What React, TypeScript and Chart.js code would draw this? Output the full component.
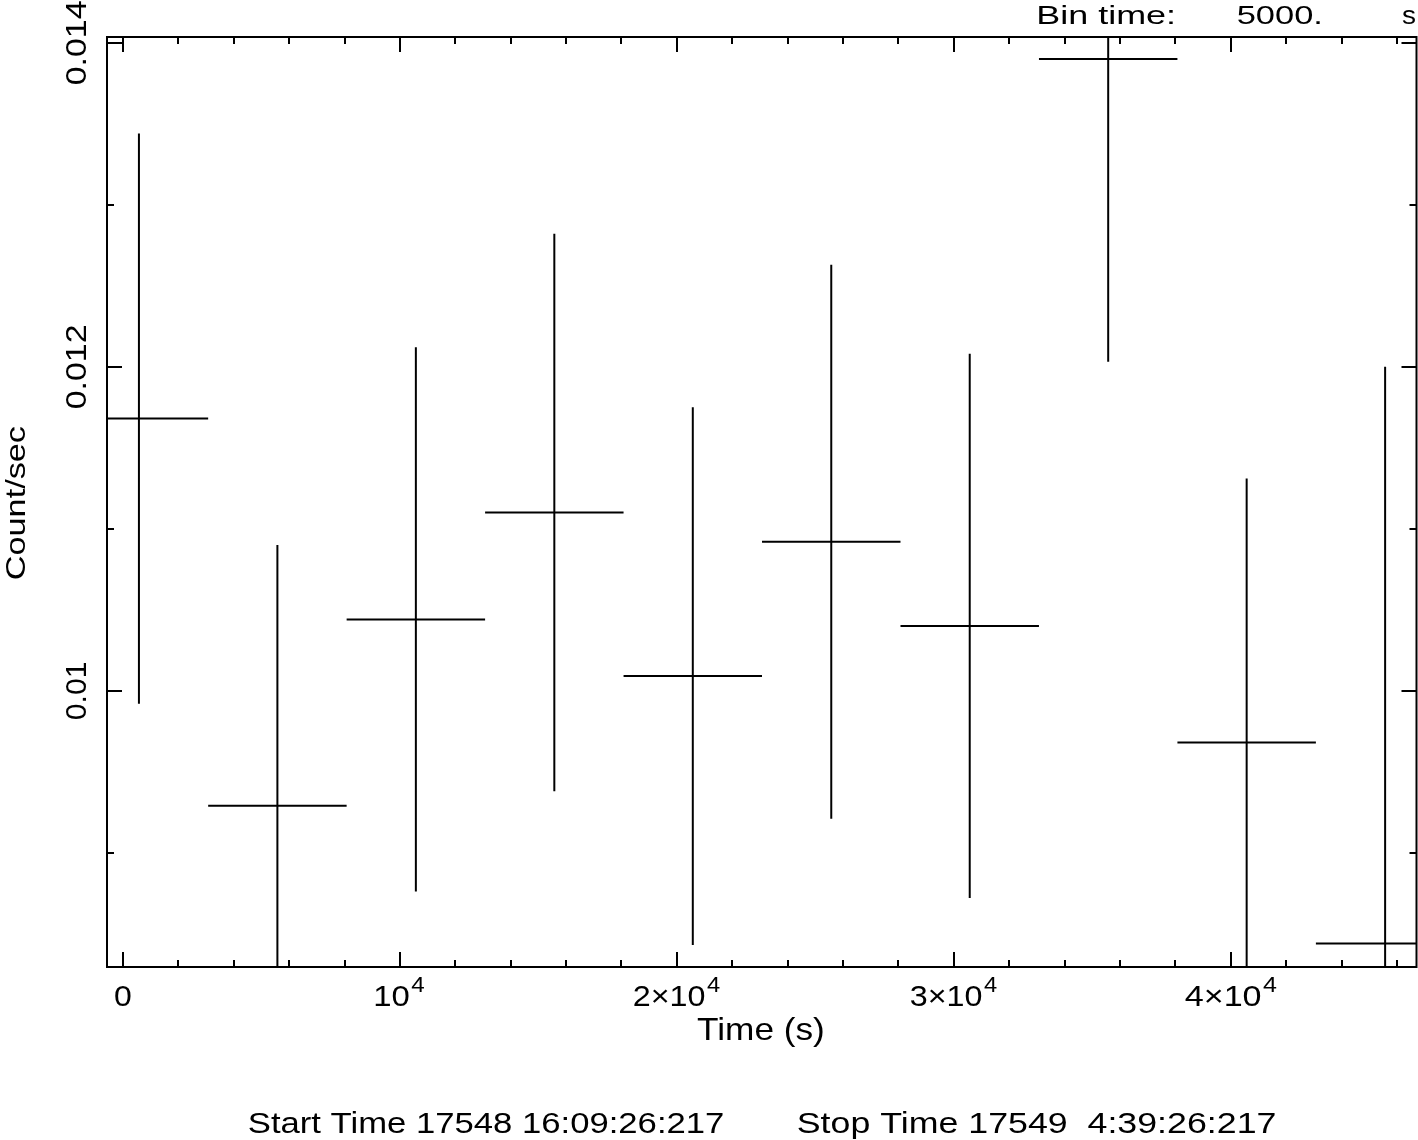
import React, { useEffect, useRef } from "react";
import { Chart, registerables } from "chart.js";

Chart.register(...registerables);

// ---- data ----
const binCenters = [575, 5575, 10575, 15575, 20575, 25575, 30575, 35575, 40575, 45575];
const countRates = [0.01168, 0.00929, 0.01044, 0.0111, 0.01009, 0.01092, 0.0104, 0.0139, 0.00968, 0.00844];
const rateErrors = [0.00176, 0.00161, 0.00168, 0.00172, 0.00166, 0.00171, 0.00168, 0.00187, 0.00163, 0.00356];
const binHalfWidth = 2500;

const xMin = -578;
const xMax = 46708;
const yMin = 0.0082944;
const yMax = 0.0140352;

const xMajorTicks = [0, 10000, 20000, 30000, 40000];
const xTickBase = ["0", "10", "2×10", "3×10", "4×10"];
const xTickSup = ["", "4", "4", "4", "4"];
const xTickWidths = [16, 49, 86, 86, 92];
const xMinorTicks = [2000, 4000, 6000, 8000, 12000, 14000, 16000, 18000, 22000, 24000, 26000, 28000, 32000, 34000, 36000, 38000, 42000, 44000, 46000];

const yMajorTicks = [0.01, 0.012, 0.014];
const yTickLabels = ["0.01", "0.012", "0.014"];
const yTickLengths = [57, 83, 83];
const yMinorTicks = [0.009, 0.011, 0.013];

const xTitle = "Time (s)";
const yTitle = "Count/sec";
const binTimeLabel = "Bin time:";
const binTimeValue = "5000.";
const binTimeUnit = "s";
const startText = "Start Time 17548 16:09:26:217";
const stopText = "Stop Time 17549  4:39:26:217";

const FONT = '"DejaVu Sans ExtraLight", "Liberation Sans", "DejaVu Sans", Arial, sans-serif';
const WEIGHT = "200";

function drawInk(
  ctx: CanvasRenderingContext2D,
  text: string,
  size: number,
  left: number,
  baseline: number,
  inkWidth: number,
  rotated = false
) {
  ctx.save();
  ctx.font = `${WEIGHT} ${size}px ${FONT}`;
  ctx.textAlign = "left";
  ctx.textBaseline = "alphabetic";
  const m = ctx.measureText(text);
  const natural = m.actualBoundingBoxRight + m.actualBoundingBoxLeft;
  const s = inkWidth / natural;
  ctx.translate(left, baseline);
  if (rotated) ctx.rotate(-Math.PI / 2);
  ctx.scale(s, 1);
  ctx.fillStyle = "#000";
  ctx.fillText(text, m.actualBoundingBoxLeft, 0);
  ctx.restore();
}

function drawSupLabel(
  ctx: CanvasRenderingContext2D,
  base: string,
  sup: string,
  centerX: number,
  baseline: number,
  totalWidth: number
) {
  ctx.save();
  ctx.fillStyle = "#000";
  ctx.textAlign = "left";
  ctx.textBaseline = "alphabetic";
  ctx.font = `${WEIGHT} 30px ${FONT}`;
  const mb = ctx.measureText(base);
  const baseInk = mb.actualBoundingBoxRight + mb.actualBoundingBoxLeft;
  let supInk = 0;
  let ms: TextMetrics | null = null;
  const gap = 2;
  if (sup) {
    ctx.font = `${WEIGHT} 22px ${FONT}`;
    ms = ctx.measureText(sup);
    supInk = ms.actualBoundingBoxRight + ms.actualBoundingBoxLeft;
  }
  const natural = baseInk + (sup ? gap + supInk : 0);
  const s = totalWidth / natural;
  const left = centerX - totalWidth / 2;
  ctx.translate(left, baseline);
  ctx.scale(s, 1);
  ctx.font = `${WEIGHT} 30px ${FONT}`;
  ctx.fillText(base, mb.actualBoundingBoxLeft, 0);
  if (sup && ms) {
    ctx.font = `${WEIGHT} 22px ${FONT}`;
    ctx.fillText(sup, baseInk + gap + ms.actualBoundingBoxLeft, -14);
  }
  ctx.restore();
}

const framePlugin = {
  id: "qdpFrame",
  afterDatasetsDraw(chart: any) {
    const ctx: CanvasRenderingContext2D = chart.ctx;
    const { left, right, top, bottom } = chart.chartArea;
    const xs = chart.scales.x;
    const ys = chart.scales.y;
    ctx.save();
    ctx.strokeStyle = "#000";
    ctx.lineWidth = 2;
    ctx.lineCap = "butt";
    ctx.beginPath();
    ctx.rect(left, top, right - left, bottom - top);
    ctx.stroke();

    const majorLen = 15;
    const minorLen = 7;
    ctx.beginPath();
    const xTick = (v: number, len: number) => {
      const px = Math.round(xs.getPixelForValue(v));
      ctx.moveTo(px, bottom);
      ctx.lineTo(px, bottom - len);
      ctx.moveTo(px, top);
      ctx.lineTo(px, top + len);
    };
    const yTick = (v: number, len: number) => {
      const py = Math.round(ys.getPixelForValue(v));
      ctx.moveTo(left, py);
      ctx.lineTo(left + len, py);
      ctx.moveTo(right, py);
      ctx.lineTo(right - len, py);
    };
    xMajorTicks.forEach((v) => xTick(v, majorLen));
    xMinorTicks.forEach((v) => xTick(v, minorLen));
    yMajorTicks.forEach((v) => yTick(v, majorLen));
    yMinorTicks.forEach((v) => yTick(v, minorLen));
    ctx.stroke();
    ctx.restore();

    // x tick labels
    xMajorTicks.forEach((v, i) => {
      const px = xs.getPixelForValue(v);
      drawSupLabel(ctx, xTickBase[i], xTickSup[i], px, 1006, xTickWidths[i]);
    });
    // y tick labels (rotated)
    yMajorTicks.forEach((v, i) => {
      const py = ys.getPixelForValue(v);
      drawInk(ctx, yTickLabels[i], 30, 86, py + yTickLengths[i] / 2, yTickLengths[i], true);
    });
    // axis titles
    drawInk(ctx, xTitle, 32, 697, 1040, 126);
    drawInk(ctx, yTitle, 28, 25, 579, 153, true);
    // header
    drawInk(ctx, binTimeLabel, 26, 1039, 24, 134);
    drawInk(ctx, binTimeValue, 26, 1238, 24, 82);
    drawInk(ctx, binTimeUnit, 26, 1402, 24, 14);
    // footer
    drawInk(ctx, startText, 29, 249, 1133, 474);
    drawInk(ctx, stopText, 29, 798, 1133, 477);
  },
};

export default function App() {
  const canvasRef = useRef<HTMLCanvasElement | null>(null);

  useEffect(() => {
    const canvas = canvasRef.current;
    if (!canvas) return;

    const horizontal: any[] = [];
    const vertical: any[] = [];
    binCenters.forEach((c, i) => {
      const r = countRates[i];
      const e = rateErrors[i];
      horizontal.push({ x: c - binHalfWidth, y: r }, { x: c + binHalfWidth, y: r }, { x: c + binHalfWidth, y: null });
      vertical.push({ x: c, y: r - e }, { x: c, y: r + e }, { x: c, y: null });
    });

    const chart = new Chart(canvas, {
      type: "scatter",
      data: {
        datasets: [
          {
            data: horizontal,
            showLine: true,
            spanGaps: false,
            borderColor: "#000",
            borderWidth: 2,
            pointRadius: 0,
            tension: 0,
          },
          {
            data: vertical,
            showLine: true,
            spanGaps: false,
            borderColor: "#000",
            borderWidth: 2,
            pointRadius: 0,
            tension: 0,
          },
        ],
      },
      options: {
        animation: false,
        responsive: false,
        devicePixelRatio: 1,
        layout: { padding: { left: 107, top: 37, right: 1.5, bottom: 173 } },
        scales: {
          x: { type: "linear", min: xMin, max: xMax, display: false },
          y: { type: "linear", min: yMin, max: yMax, display: false },
        },
        plugins: {
          legend: { display: false },
          tooltip: { enabled: false },
        },
        events: [],
      } as any,
      plugins: [framePlugin],
    });
    return () => chart.destroy();
  }, []);

  return (
    <div style={{ position: "absolute", left: 0, top: 0, width: 1418, height: 1140, background: "#fff" }}>
      <canvas ref={canvasRef} width={1418} height={1140} style={{ width: 1418, height: 1140, display: "block" }} />
    </div>
  );
}
